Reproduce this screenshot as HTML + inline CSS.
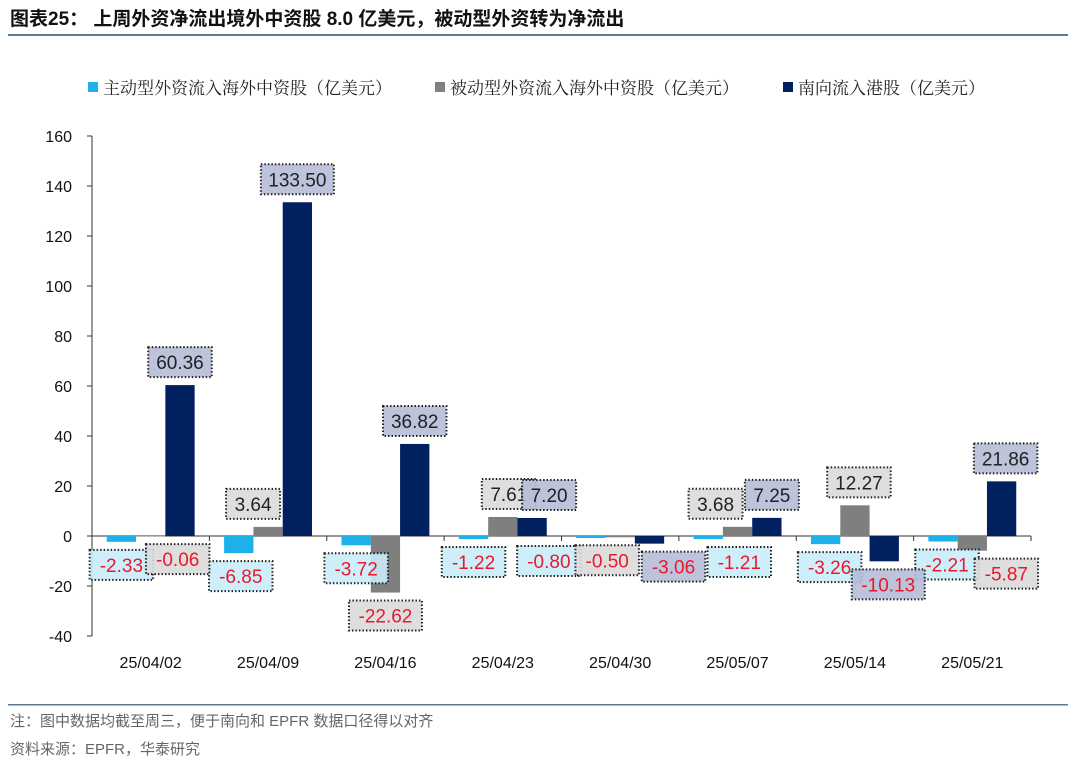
<!DOCTYPE html>
<html><head><meta charset="utf-8"><style>
body{margin:0;background:#fff;width:1080px;height:766px;overflow:hidden;font-family:"Liberation Sans","Noto Sans CJK SC",sans-serif}
</style></head><body>
<svg width="1080" height="766" xmlns="http://www.w3.org/2000/svg">
<text x="10" y="25" font-size="19" font-weight="bold" fill="#111">图表25：  上周外资净流出境外中资股 8.0 亿美元，被动型外资转为净流出</text>
<rect x="8" y="34" width="1060" height="2" fill="#5b7a96"/>
<g id="legend" font-size="17" fill="#222" style="font-family:'Noto Serif CJK SC',serif"></g>
<g id="axes"></g>
<g id="bars"></g>
<g id="labels"></g>
<rect x="8" y="704" width="1060" height="1.5" fill="#5b7a96"/>
<text x="10" y="726" font-size="15" fill="#666">注：图中数据均截至周三，便于南向和 EPFR 数据口径得以对齐</text>
<text x="10" y="754" font-size="15" fill="#666">资料来源：EPFR，华泰研究</text>
</svg>
<script>
const categories=["25/04/02","25/04/09","25/04/16","25/04/23","25/04/30","25/05/07","25/05/14","25/05/21"];
const activeFlow=[-2.33,-6.85,-3.72,-1.22,-0.80,-1.21,-3.26,-2.21];
const passiveFlow=[-0.06,3.64,-22.62,7.61,-0.50,3.68,12.27,-5.87];
const southbound=[60.36,133.50,36.82,7.20,-3.06,7.25,-10.13,21.86];
const seriesNames=["主动型外资流入海外中资股（亿美元）","被动型外资流入海外中资股（亿美元）","南向流入港股（亿美元）"];
const yTicks=[160,140,120,100,80,60,40,20,0,-20,-40];
</script>
<script>
const NS="http://www.w3.org/2000/svg";
const X0=92,X1=1031,Y0=136,Y1=636,YMAX=160,YMIN=-40;
const bw=(X1-X0)/categories.length;
const y=v=>Y0+(YMAX-v)/(YMAX-YMIN)*(Y1-Y0);
const xc=i=>X0+bw*(i+0.5);
const colors=["#1eb0e8","#7f7f7f","#002060"];
const lblBg=["#c9ecfa","#dadada","#b5bdd6"];
function mk(tag,attrs,parent){const e=document.createElementNS(NS,tag);for(const k in attrs)e.setAttribute(k,attrs[k]);parent.appendChild(e);return e;}
const axes=document.getElementById('axes'),bars=document.getElementById('bars'),labels=document.getElementById('labels'),legend=document.getElementById('legend');
const lx=[88,435,783];
seriesNames.forEach((n,s)=>{
 const r=mk('rect',{x:lx[s],y:82,width:10,height:10,fill:colors[s]},legend);
 
 
 const t=mk('text',{x:lx[s]+15,y:94},legend);t.textContent=n;
 
 
});
const ya=mk('line',{x1:X0,y1:Y0,x2:X0,y2:Y1,stroke:'#333','stroke-width':1},axes);


yTicks.forEach(v=>{
 mk('line',{x1:X0-5,y1:y(v),x2:X0,y2:y(v),stroke:'#333'},axes);
 const t=mk('text',{x:72,y:y(v)+6,'text-anchor':'end','font-size':16,fill:'#111'},axes);t.textContent=v;
 
 
});
const xa=mk('line',{x1:X0,y1:y(0),x2:X1,y2:y(0),stroke:'#333','stroke-width':1},axes);


categories.forEach((c,i)=>{
 mk('line',{x1:X0+bw*(i+1),y1:y(0),x2:X0+bw*(i+1),y2:y(0)+5,stroke:'#333'},axes);
 const t=mk('text',{x:xc(i),y:668,'text-anchor':'middle','font-size':16,fill:'#111'},axes);t.textContent=c;
 
 
});
const series=[activeFlow,passiveFlow,southbound];
const barW=29.3;
const dx=[[0,2,0,0,-42,31,4,4],[27,-15,0,6,-13,-22,4,34],[0,0,0,17,24,5,4,4]];
series.forEach((arr,s)=>{
 arr.forEach((v,i)=>{
  const cx=xc(i)+(s-1)*barW;
  const top=Math.min(y(v),y(0)),h=Math.abs(y(v)-y(0));
  const b=mk('rect',{x:cx-barW/2,y:top,width:barW,height:Math.max(h,0.5),fill:colors[s]},bars);
  
  
  const txt=v.toFixed(2);
  const w=txt.length*9.5+16;
  const lc=cx+dx[s][i];
  const ly=v>=0?y(v)-23:y(v)+23;
  const g=mk('g',{},labels);
  
  
  mk('rect',{x:lc-w/2,y:ly-15,width:w,height:30,fill:lblBg[s],'fill-opacity':0.9,stroke:'#222','stroke-width':2,'stroke-dasharray':'1.5 2'},g);
  const t=mk('text',{x:lc,y:ly+7,'text-anchor':'middle','font-size':19,fill:v<0?'#e8192c':'#222'},g);t.textContent=txt;
 });
});
</script>
</body></html>
